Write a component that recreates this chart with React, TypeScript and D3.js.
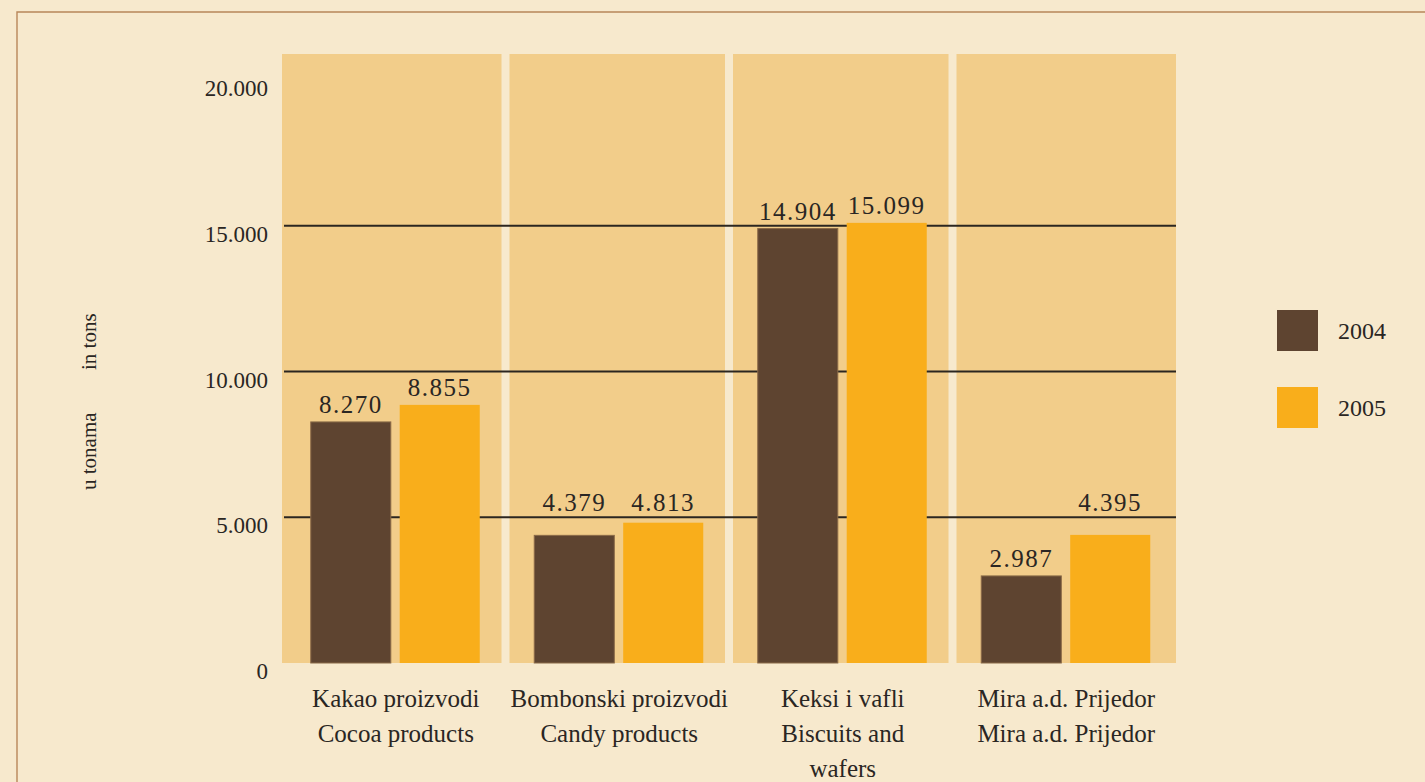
import * as d3 from 'd3'

const categories = ['kakao', 'bombonski', 'keksi', 'mira']
const categoryLines = [
  ['Kakao proizvodi', 'Cocoa products'],
  ['Bombonski proizvodi', 'Candy products'],
  ['Keksi i vafli', 'Biscuits and', 'wafers'],
  ['Mira a.d. Prijedor', 'Mira a.d. Prijedor'],
]
const series = ['2004', '2005']
const values2004 = [8270, 4379, 14904, 2987]
const values2005 = [8855, 4813, 15099, 4395]
const yTicks = [0, 5000, 10000, 15000, 20000]
const gridValues = [5000, 10000, 15000]

const W = 1425
const H = 782
const BG = '#f7e9cd'
const PANEL = '#f2cd8a'
const TEXT = '#2a2623'
const colors = ['#5e4430', '#f9ae1b']
const serif = '"Liberation Serif", "DejaVu Serif", serif'

const fmt = (v: number) => d3.format(',')(v).replace(/,/g, '.')

const App = () => {
  const x = d3.scaleBand<string>().domain(categories).range([282, 1176]).padding(0)
  const y = d3.scaleLinear().domain([0, 20000]).range([663, 80])
  const inner = d3.scaleBand<string>().domain(series).range([0, 169]).paddingInner(0.1)
  const groupOffset = (x.bandwidth() - 169) / 2 + 1.5
  const plotTop = 54
  const gap = 4

  const seriesValues = [values2004, values2005]

  // put the value label above the bar, but keep it off the grid lines
  const labelBaseline = (v: number) => {
    let b = y(v) - 9
    gridValues.forEach((g) => {
      const gy = y(g)
      if (gy > b - 22 && gy < b + 10) b = Math.min(b, gy - 6)
    })
    return b
  }

  return (
    <svg
      width={W}
      height={H}
      style={{ position: 'absolute', left: 0, top: 0, display: 'block' }}
    >
      <rect width={W} height={H} fill={BG} />
      <path d={`M17,${H} V12 H${W}`} fill="none" stroke="#b8865a" strokeWidth={1.4} />

      {categories.map((c, i) => {
        const x0 = x(c)! + (i > 0 ? gap : 0)
        const x1 = x(c)! + x.bandwidth() - (i < categories.length - 1 ? gap : 0)
        return (
          <rect key={c} x={x0} y={plotTop} width={x1 - x0} height={y(0) - plotTop} fill={PANEL} />
        )
      })}

      {gridValues.map((g) => (
        <line
          key={g}
          x1={284}
          x2={1176}
          y1={y(g)}
          y2={y(g)}
          stroke="#2b2620"
          strokeWidth={2}
        />
      ))}

      {yTicks.map((t) => (
        <text
          key={t}
          x={268}
          y={y(t) + 16}
          textAnchor="end"
          fontFamily={serif}
          fontSize={23}
          fill={TEXT}
        >
          {fmt(t)}
        </text>
      ))}

      {categories.map((c, i) =>
        series.map((s, j) => {
          const v = seriesValues[j][i]
          const bx = x(c)! + groupOffset + inner(s)!
          return (
            <g key={c + s}>
              <rect
                x={bx}
                y={y(v)}
                width={inner.bandwidth()}
                height={y(0) - y(v)}
                fill={colors[j]}
                stroke={j === 0 ? '#8a6a48' : 'none'}
                strokeWidth={1}
              />
              <text
                x={bx + inner.bandwidth() / 2}
                y={labelBaseline(v)}
                textAnchor="middle"
                fontFamily={serif}
                fontSize={25}
                letterSpacing={1.5}
                fill={TEXT}
              >
                {fmt(v)}
              </text>
            </g>
          )
        })
      )}

      {categories.map((c, i) => (
        <text
          key={c}
          textAnchor="middle"
          fontFamily={serif}
          fontSize={25}
          fill={TEXT}
        >
          {categoryLines[i].map((line, k) => (
            <tspan key={k} x={x(c)! + x.bandwidth() / 2 + 2} y={707 + k * 35}>
              {line}
            </tspan>
          ))}
        </text>
      ))}

      <g transform="translate(96,490) rotate(-90)" fontFamily={serif} fontSize={21} fill={TEXT}>
        <text x={0} y={0}>u tonama</text>
        <text x={120} y={0}>in tons</text>
      </g>

      {series.map((s, j) => (
        <g key={s} transform={`translate(1277,${310 + j * 77})`}>
          <rect width={41} height={41} fill={colors[j]} />
          <text x={61} y={29} fontFamily={serif} fontSize={24} fill={TEXT}>
            {s}
          </text>
        </g>
      ))}
    </svg>
  )
}

export default App
